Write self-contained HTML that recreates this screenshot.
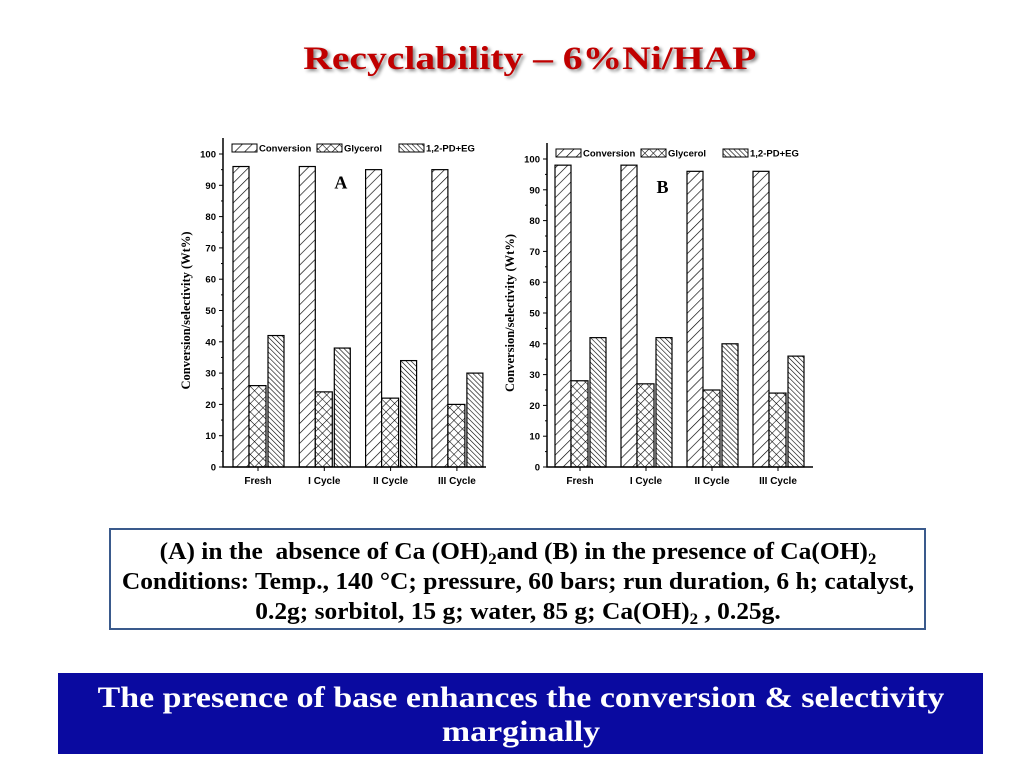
<!DOCTYPE html>
<html><head><meta charset="utf-8">
<style>
body{margin:0;width:1024px;height:768px;background:#fff;position:relative;overflow:hidden;font-family:"Liberation Serif",serif}
#title{position:absolute;left:18px;width:1024px;top:41px;text-align:center;color:#c00000;font-weight:bold;font-size:33px;text-shadow:2px 2px 3px #888}
#title span{display:inline-block;transform:scaleX(1.2)}
#cond{position:absolute;left:109px;top:528px;width:817px;height:102px;border:2px solid #3a5a8c;box-sizing:border-box;text-align:center;font-weight:bold;font-size:24px;line-height:30px;padding-top:7px}
#cond .in{display:inline-block;transform:scaleX(1.06);transform-origin:center top;white-space:nowrap;width:800px}
sub{line-height:0;font-size:16px;vertical-align:-5px}
#band{position:absolute;left:58px;top:673px;width:925px;height:81px;background:#0a0aa0;color:#fff;text-align:center;font-weight:bold;font-size:30px;line-height:34px;padding-top:8px;box-sizing:border-box}
#band .in{display:inline-block;transform:scaleX(1.13);transform-origin:center top;width:900px;white-space:nowrap}
svg text{font-family:"Liberation Sans",sans-serif}
</style></head><body>
<div id="title"><span>Recyclability – 6%Ni/HAP</span></div>
<svg id="charts" width="1024" height="520" style="position:absolute;left:0;top:0">
<defs>
<pattern id="pConv" patternUnits="userSpaceOnUse" width="7" height="7" patternTransform="rotate(45)"><rect width="7" height="7" fill="#fff"/><line x1="0" y1="0" x2="0" y2="7" stroke="#000" stroke-width="1.3"/></pattern>
<pattern id="pGly" patternUnits="userSpaceOnUse" width="6" height="6" patternTransform="rotate(45)"><rect width="6" height="6" fill="#fff"/><line x1="0" y1="0" x2="0" y2="6" stroke="#000" stroke-width="1.1"/><line x1="0" y1="0" x2="6" y2="0" stroke="#000" stroke-width="1.1"/></pattern>
<pattern id="pPd" patternUnits="userSpaceOnUse" width="3.5" height="3.5" patternTransform="rotate(-45)"><rect width="3.5" height="3.5" fill="#fff"/><line x1="0" y1="0" x2="0" y2="3.5" stroke="#000" stroke-width="1.2"/></pattern>
</defs>
</svg>
<div id="cond"><div class="in">(A) in the&nbsp; absence of Ca (OH)<sub>2</sub>and (B) in the presence of Ca(OH)<sub>2</sub><br>Conditions: Temp., 140 °C; pressure, 60 bars; run duration, 6 h; catalyst,<br>0.2g; sorbitol, 15 g; water, 85 g; Ca(OH)<sub>2</sub> , 0.25g.</div></div>
<div id="band"><div class="in">The presence of base enhances the conversion &amp; selectivity<br>marginally</div></div>
<script>
const categories=["Fresh","I Cycle","II Cycle","III Cycle"];
const seriesNames=["Conversion","Glycerol","1,2-PD+EG"];
const aConversion=[96,96,95,95];
const aGlycerol=[26,24,22,20];
const aPdEg=[42,38,34,30];
const bConversion=[98,98,96,96];
const bGlycerol=[28,27,25,24];
const bPdEg=[42,42,40,36];
const yTicks=[0,10,20,30,40,50,60,70,80,90,100];
const NS="http://www.w3.org/2000/svg";
const svg=document.getElementById("charts");
function mk(tag,attrs,parent){const e=document.createElementNS(NS,tag);for(const k in attrs)e.setAttribute(k,attrs[k]);(parent||svg).appendChild(e);return e;}
function drawChart(id,label,x0,x1,yTop,y0,y100,firstCenter,step,series){
  const g=mk("g",{});
  
  
  const yS=v=>y0-(y0-y100)*v/100;
  const pats=["url(#pConv)","url(#pGly)","url(#pPd)"];
  const offs=[[-25,-9],[-9,8],[10,26]];
  series.forEach((vals,s)=>{vals.forEach((v,i)=>{
    const c=firstCenter+step*i;
    const r=mk("rect",{x:c+offs[s][0],y:yS(v),width:offs[s][1]-offs[s][0],height:y0-yS(v),fill:pats[s],stroke:"#000","stroke-width":1.2},g);
    
    
  });});
  const fr=mk("path",{d:`M${x0},${yTop}V${y0}H${x1}`,fill:"none",stroke:"#000","stroke-width":1.5},g);
  
  
  yTicks.forEach(t=>{const y=yS(t);
    mk("line",{x1:x0-4,x2:x0,y1:y,y2:y,stroke:"#000","stroke-width":1},g);
    if(t<100) mk("line",{x1:x0-2,x2:x0,y1:yS(t+5),y2:yS(t+5),stroke:"#000","stroke-width":1},g);
    const tx=mk("text",{x:x0-7,y:y+3.5,"text-anchor":"end","font-size":9.5,"font-weight":"bold"},g);tx.textContent=t;
    
    
  });
  categories.forEach((c,i)=>{const x=firstCenter+step*i;
    mk("line",{x1:x,x2:x,y1:y0,y2:y0+4,stroke:"#000"},g);
    const tx=mk("text",{x:x,y:y0+17,"text-anchor":"middle","font-size":10,"font-weight":"bold"},g);tx.textContent=c;
    
    
  });
  const yt=mk("text",{transform:`translate(${x0-33},${(y0+yTop)/2+8}) rotate(-90)`,"text-anchor":"middle","font-size":12.5,"font-weight":"bold",style:"font-family:'Liberation Serif',serif"},g);
  yt.textContent="Conversion/selectivity (Wt%)";
  
  
  const pl=mk("text",{x:firstCenter+step*1.25,y:yS(89),"font-size":18,"font-weight":"bold","text-anchor":"middle",style:"font-family:'Liberation Serif',serif"},g);
  pl.textContent=label;
  
  
  const lx=[x0+9,x0+94,x0+176];
  seriesNames.forEach((n,s)=>{
    const le=mk("g",{},g);
    
    
    mk("rect",{x:lx[s],y:yTop+6,width:25,height:8,fill:pats[s],stroke:"#000","stroke-width":1},le);
    const t=mk("text",{x:lx[s]+27,y:yTop+13.5,"font-size":9.5,"font-weight":"bold"},le);t.textContent=n;
  });
}
drawChart("a","A",223,486,138,467,154,258,66.3,[aConversion,aGlycerol,aPdEg]);
drawChart("b","B",547,813,143,467,159,580,66,[bConversion,bGlycerol,bPdEg]);
</script>
</body></html>
